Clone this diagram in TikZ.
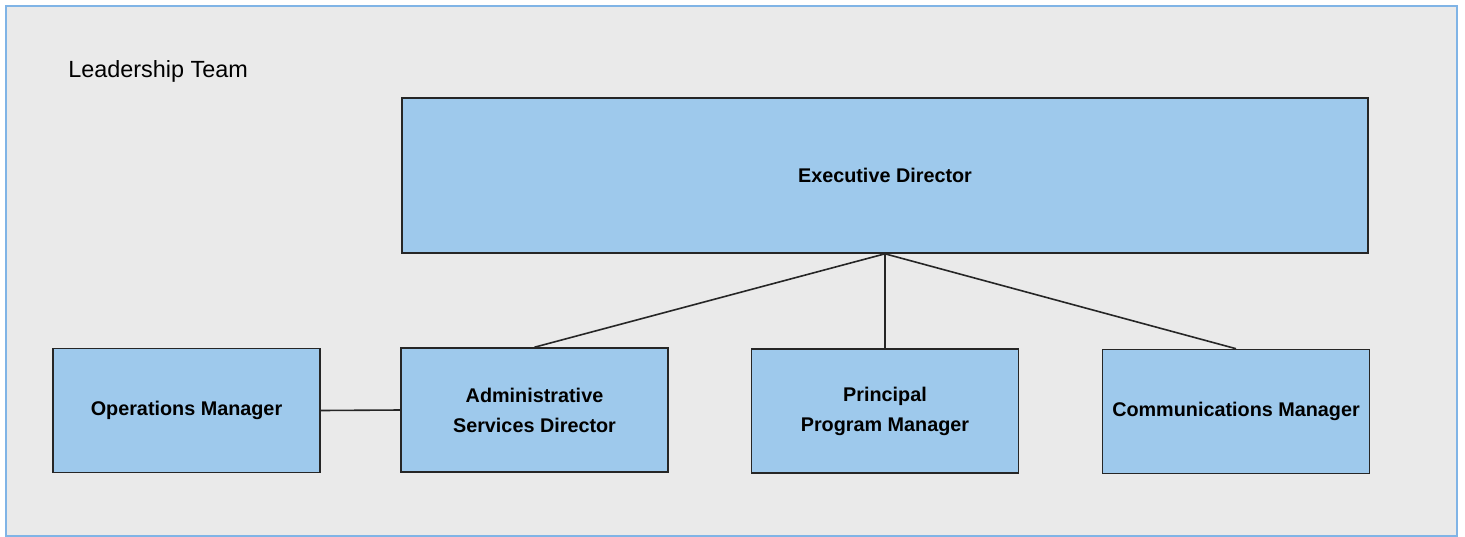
\documentclass[tikz,border=0pt]{standalone}
\usepackage{fontspec}
\setmainfont{Liberation Sans}
\definecolor{boxblue}{RGB}{158,201,236}
\definecolor{framegray}{RGB}{234,234,234}
\definecolor{frameblue}{RGB}{128,180,230}
\tikzset{
	rolebox/.style={draw=black!85, fill=boxblue, line width=0.8pt, align=center,
		minimum width=133.5pt, minimum height=62pt, inner sep=0pt,
		font=\fontsize{9.9pt}{15pt}\selectfont\bfseries},
	link/.style={draw=black!85, line width=0.8pt}
}
\begin{document}
\begin{tikzpicture}[x=0.5pt,y=-0.5pt]
		\useasboundingbox (0,0) rectangle (1465,536);
		\draw[fill=framegray, draw=frameblue, line width=1.2pt] (6,6) rectangle (1457,536);
		\node[anchor=base west, inner sep=0pt, font=\fontsize{11.7pt}{14pt}\selectfont] (title) at (68,77) {Leadership Team};
		\node[rolebox, minimum width=483pt, minimum height=77.5pt] (exec) at (885,175.5) {Executive Director};
		\node[rolebox] (ops) at (186.5,410.5) {Operations Manager};
		\node[rolebox] (admin) at (534.5,410) {Administrative\\Services Director};
		\node[rolebox] (principal) at (885,411) {Principal\\Program Manager};
		\node[rolebox] (comm) at (1236,411.5) {Communications Manager};
		\draw[link] (exec.south) -- (admin.north);
		\draw[link] (exec.south) -- (principal.north);
		\draw[link] (exec.south) -- (comm.north);
		\draw[link] (ops.east) -- (admin.west);
	\end{tikzpicture}
\end{document}
